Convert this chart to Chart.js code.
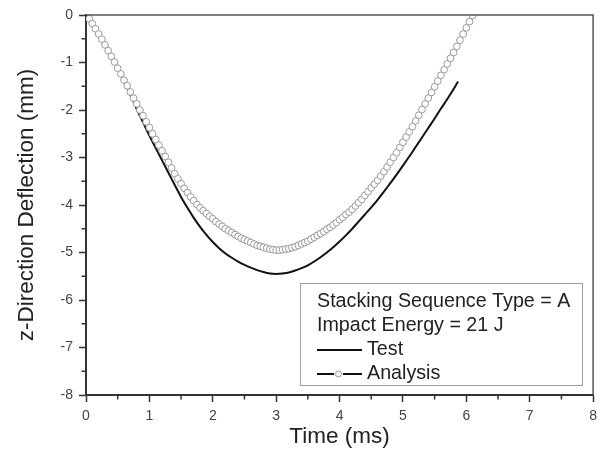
<!DOCTYPE html>
<html>
<head>
<meta charset="utf-8">
<script src="https://cdn.jsdelivr.net/npm/chart.js@4.4.1/dist/chart.umd.min.js"></script>
<style>
  html, body { margin: 0; padding: 0; background: #fff; }
  #wrap { width: 603px; height: 457px; }
</style>
</head>
<body>
<div id="wrap"><canvas id="deflChart" width="603" height="457"></canvas></div>
<script>
// Data — z-direction deflection vs time
const xMajor = [0, 1, 2, 3, 4, 5, 6, 7, 8];
const yMajor = [0, -1, -2, -3, -4, -5, -6, -7, -8];

const legendLines = ["Stacking Sequence Type = A", "Impact Energy = 21 J"];

const testTime = [0, 0.1, 0.2, 0.3, 0.4, 0.5, 0.6, 0.7, 0.8, 0.9,
  1.0, 1.1, 1.2, 1.3, 1.4, 1.5, 1.6, 1.7, 1.8, 1.9,
  2.0, 2.1, 2.2, 2.3, 2.4, 2.5, 2.6, 2.7, 2.8, 2.9,
  3.0, 3.1, 3.2, 3.3, 3.4, 3.5, 3.6, 3.7, 3.8, 3.9,
  4.0, 4.1, 4.2, 4.3, 4.4, 4.5, 4.6, 4.7, 4.8, 4.9,
  5.0, 5.1, 5.2, 5.3, 5.4, 5.5, 5.6, 5.7, 5.8, 5.87];
const testDefl = [0, -0.18, -0.42, -0.66, -0.88, -1.12, -1.40, -1.68, -1.98, -2.26,
  -2.54, -2.80, -3.06, -3.32, -3.58, -3.83, -4.06, -4.27, -4.46, -4.63,
  -4.78, -4.91, -5.02, -5.11, -5.19, -5.26, -5.32, -5.37, -5.41, -5.44,
  -5.45, -5.44, -5.42, -5.38, -5.33, -5.27, -5.19, -5.10, -5.00, -4.89,
  -4.77, -4.64, -4.50, -4.35, -4.20, -4.05, -3.89, -3.72, -3.54, -3.36,
  -3.17, -2.98, -2.78, -2.58, -2.38, -2.18, -1.97, -1.77, -1.56, -1.40];

const analysisTime = [0.05, 0.10, 0.15, 0.20, 0.25, 0.30, 0.35, 0.40, 0.45, 0.50,
  0.55, 0.60, 0.65, 0.70, 0.75, 0.80, 0.85, 0.90, 0.95, 1.00,
  1.05, 1.10, 1.15, 1.20, 1.25, 1.30, 1.35, 1.40, 1.45, 1.50,
  1.55, 1.60, 1.65, 1.70, 1.75, 1.80, 1.85, 1.90, 1.95, 2.00,
  2.05, 2.10, 2.15, 2.20, 2.25, 2.30, 2.35, 2.40, 2.45, 2.50,
  2.55, 2.60, 2.65, 2.70, 2.75, 2.80, 2.85, 2.90, 2.95, 3.00,
  3.05, 3.10, 3.15, 3.20, 3.25, 3.30, 3.35, 3.40, 3.45, 3.50,
  3.55, 3.60, 3.65, 3.70, 3.75, 3.80, 3.85, 3.90, 3.95, 4.00,
  4.05, 4.10, 4.15, 4.20, 4.25, 4.30, 4.35, 4.40, 4.45, 4.50,
  4.55, 4.60, 4.65, 4.70, 4.75, 4.80, 4.85, 4.90, 4.95, 5.00,
  5.05, 5.10, 5.15, 5.20, 5.25, 5.30, 5.35, 5.40, 5.45, 5.50,
  5.55, 5.60, 5.65, 5.70, 5.75, 5.80, 5.85, 5.90, 5.95, 6.00,
  6.05, 6.10];
const analysisDefl = [-0.08, -0.18, -0.29, -0.40, -0.51, -0.63, -0.75, -0.87, -0.99, -1.12,
  -1.24, -1.37, -1.49, -1.62, -1.75, -1.87, -2.00, -2.12, -2.25, -2.37,
  -2.50, -2.62, -2.74, -2.86, -2.98, -3.10, -3.22, -3.34, -3.45, -3.55,
  -3.65, -3.74, -3.83, -3.91, -3.99, -4.06, -4.12, -4.18, -4.24, -4.29,
  -4.35, -4.40, -4.45, -4.50, -4.54, -4.58, -4.62, -4.66, -4.70, -4.73,
  -4.76, -4.79, -4.82, -4.85, -4.87, -4.89, -4.91, -4.93, -4.94, -4.95,
  -4.95, -4.94, -4.93, -4.92, -4.90, -4.88, -4.85, -4.82, -4.79, -4.76,
  -4.72, -4.68, -4.64, -4.60, -4.56, -4.51, -4.47, -4.42, -4.37, -4.31,
  -4.26, -4.20, -4.15, -4.09, -4.02, -3.95, -3.88, -3.80, -3.72, -3.64,
  -3.56, -3.48, -3.39, -3.30, -3.20, -3.10, -3.00, -2.90, -2.79, -2.68,
  -2.57, -2.46, -2.35, -2.23, -2.11, -1.99, -1.87, -1.75, -1.63, -1.51,
  -1.39, -1.27, -1.15, -1.03, -0.91, -0.79, -0.66, -0.53, -0.40, -0.27,
  -0.14, -0.01];

const FONT = "Arial, 'Liberation Sans', sans-serif";
const MARKER_GRAY = "#9a9a9a";

// frame (top/right), minor ticks and the boxed legend
const framePlugin = {
  id: "frameAndLegend",
  afterDraw(chart) {
    const { ctx, chartArea: a, scales } = chart;
    ctx.save();

    // top + right frame
    ctx.strokeStyle = "#555";
    ctx.lineWidth = 1.5;
    ctx.beginPath();
    ctx.moveTo(a.left, a.top);
    ctx.lineTo(a.right, a.top);
    ctx.lineTo(a.right, a.bottom);
    ctx.stroke();

    // minor ticks at half steps
    ctx.strokeStyle = "#333";
    ctx.lineWidth = 1.5;
    ctx.beginPath();
    for (let i = 0; i < xMajor.length - 1; i++) {
      const px = scales.x.getPixelForValue((xMajor[i] + xMajor[i + 1]) / 2);
      ctx.moveTo(px, a.bottom);
      ctx.lineTo(px, a.bottom + 4.5);
    }
    for (let i = 0; i < yMajor.length - 1; i++) {
      const py = scales.y.getPixelForValue((yMajor[i] + yMajor[i + 1]) / 2);
      ctx.moveTo(a.left, py);
      ctx.lineTo(a.left - 4.5, py);
    }
    ctx.stroke();

    // legend box
    const bx = 300, by = 283, bw = 282, bh = 102;
    ctx.fillStyle = "#fff";
    ctx.fillRect(bx, by, bw, bh);
    ctx.strokeStyle = "#a0a0a0";
    ctx.lineWidth = 1;
    ctx.strokeRect(bx + 0.5, by + 0.5, bw, bh);

    ctx.fillStyle = "#222";
    ctx.font = "19.7px " + FONT;
    ctx.textBaseline = "middle";
    ctx.textAlign = "left";
    const tx = 317;
    ctx.fillText(legendLines[0], tx, 302);
    ctx.fillText(legendLines[1], tx, 326);

    const ds = chart.data.datasets;
    // Test sample
    ctx.strokeStyle = "#111";
    ctx.lineWidth = 2;
    ctx.beginPath();
    ctx.moveTo(tx, 350);
    ctx.lineTo(tx + 45, 350);
    ctx.stroke();
    ctx.fillText(ds[0].label, tx + 50, 350);

    // Analysis sample
    ctx.beginPath();
    ctx.moveTo(tx, 374);
    ctx.lineTo(tx + 17, 374);
    ctx.moveTo(tx + 26, 374);
    ctx.lineTo(tx + 45, 374);
    ctx.stroke();
    ctx.strokeStyle = MARKER_GRAY;
    ctx.lineWidth = 1;
    ctx.beginPath();
    ctx.arc(tx + 21.5, 374, 3, 0, Math.PI * 2);
    ctx.stroke();
    ctx.fillText(ds[1].label, tx + 50, 374);

    ctx.restore();
  }
};

new Chart(document.getElementById("deflChart"), {
  type: "scatter",
  data: {
    datasets: [
      {
        label: "Test",
        data: testTime.map((t, i) => ({ x: t, y: testDefl[i] })),
        showLine: true,
        borderColor: "#111",
        borderWidth: 2,
        pointRadius: 0,
        tension: 0.3,
        cubicInterpolationMode: "monotone",
        order: 2
      },
      {
        label: "Analysis",
        data: analysisTime.map((t, i) => ({ x: t, y: analysisDefl[i] })),
        showLine: false,
        pointStyle: "circle",
        pointRadius: 3.4,
        pointBorderWidth: 1,
        pointBorderColor: MARKER_GRAY,
        pointBackgroundColor: "#fff",
        order: 1
      }
    ]
  },
  options: {
    responsive: false,
    animation: false,
    devicePixelRatio: 1,
    layout: { padding: { top: 15, right: 7, left: 0, bottom: 0 } },
    plugins: {
      legend: { display: false },
      tooltip: { enabled: false }
    },
    scales: {
      x: {
        type: "linear",
        min: 0,
        max: 8,
        afterBuildTicks: s => { s.ticks = xMajor.map(v => ({ value: v })); },
        afterFit: s => { s.height = 62; },
        grid: { drawOnChartArea: false, drawTicks: true, tickLength: 7, tickWidth: 1.5, tickColor: "#333" },
        border: { display: true, color: "#333", width: 2 },
        ticks: { font: { family: FONT, size: 14 }, color: "#444", padding: 6, maxRotation: 0 },
        title: { display: true, text: "Time (ms)", color: "#222", font: { family: FONT, size: 22.5 }, padding: { top: 4, bottom: 6.5 } }
      },
      y: {
        type: "linear",
        min: -8,
        max: 0,
        afterBuildTicks: s => { s.ticks = yMajor.map(v => ({ value: v })); },
        afterFit: s => { s.width = 86; },
        grid: { drawOnChartArea: false, drawTicks: true, tickLength: 7, tickWidth: 1.5, tickColor: "#333" },
        border: { display: true, color: "#333", width: 2 },
        ticks: { font: { family: FONT, size: 14 }, color: "#444", padding: 6 },
        title: { display: true, text: "z-Direction Deflection (mm)", color: "#222", font: { family: FONT, size: 22.5 }, padding: { top: 13.5, bottom: 4 } }
      }
    }
  },
  plugins: [framePlugin]
});
</script>
</body>
</html>
